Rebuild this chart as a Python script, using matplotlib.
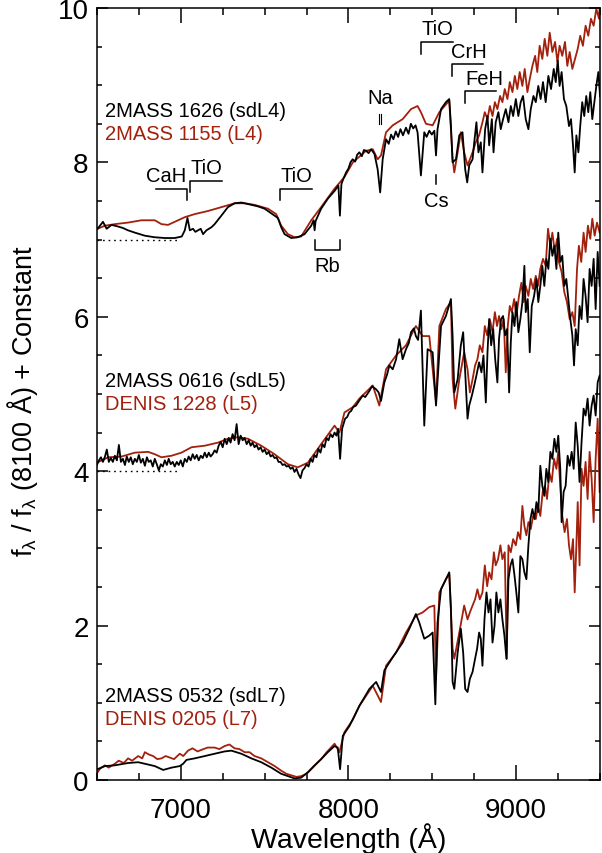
import matplotlib
matplotlib.use("Agg")
import numpy as np
import matplotlib.pyplot as plt
from matplotlib.ticker import MultipleLocator

plt.rcParams['font.family'] = ['Liberation Sans', 'DejaVu Sans']
plt.rcParams['mathtext.fontset'] = 'custom'
plt.rcParams['mathtext.rm'] = 'Liberation Sans'
plt.rcParams['mathtext.it'] = 'Liberation Sans'
plt.rcParams['mathtext.default'] = 'regular'

RED = '#a2200c'

# ---- spectra: (wavelength [A], normalized flux + offset) ----
# top pair (offset 7)
sp_1626 = np.array([
    (6504, 7.14), (6536, 7.23), (6558, 7.14), (6587, 7.19), (6625, 7.17), (6655, 7.15), (6685, 7.12),
    (6726, 7.09), (6786, 7.05), (6845, 7.03), (6905, 7.02), (6964, 7.02), (7006, 7.04), (7024, 7.12),
    (7040, 7.28), (7054, 7.12), (7073, 7.14), (7087, 7.10), (7119, 7.14), (7133, 7.07), (7153, 7.12),
    (7183, 7.16), (7202, 7.20), (7242, 7.31), (7281, 7.42), (7321, 7.47), (7361, 7.48), (7401, 7.46),
    (7460, 7.43), (7500, 7.40), (7540, 7.34), (7579, 7.28), (7599, 7.16), (7619, 7.07), (7659, 7.02),
    (7698, 7.03), (7738, 7.07), (7778, 7.18), (7792, 7.25), (7798, 7.12), (7804, 7.24), (7837, 7.40),
    (7877, 7.53), (7917, 7.63), (7940, 7.70), (7949, 7.31), (7958, 7.72), (7972, 7.80), (7986, 7.87),
    (8000, 7.92), (8012, 8.00), (8025, 8.04), (8040, 8.01), (8052, 8.10), (8065, 8.13), (8080, 8.08),
    (8092, 8.16), (8105, 8.15), (8120, 8.12), (8135, 8.17), (8155, 8.11), (8174, 7.91), (8189, 7.61),
    (8204, 8.04), (8224, 8.30), (8240, 8.24), (8254, 8.36), (8268, 8.30), (8282, 8.40), (8296, 8.33),
    (8310, 8.43), (8325, 8.35), (8343, 8.45), (8358, 8.37), (8372, 8.50), (8386, 8.44), (8400, 8.48),
    (8412, 8.39), (8432, 7.83), (8452, 8.39), (8466, 8.33), (8482, 8.41), (8497, 8.36), (8512, 8.41),
    (8522, 8.09), (8531, 8.43), (8552, 8.69), (8581, 8.78), (8601, 8.82), (8611, 8.48), (8621, 8.00),
    (8641, 8.04), (8661, 8.35), (8680, 8.39), (8696, 7.91), (8708, 7.74), (8720, 7.96), (8740, 8.04),
    (8750, 8.26), (8763, 8.52), (8775, 8.13), (8789, 8.26), (8799, 7.87), (8815, 8.43), (8829, 8.60),
    (8839, 8.22), (8855, 8.56), (8865, 8.13), (8878, 8.52), (8894, 8.65), (8908, 8.43), (8922, 8.56),
    (8938, 8.69), (8954, 8.52), (8968, 8.73), (8982, 8.60), (8998, 8.82), (9013, 8.60), (9027, 8.78),
    (9041, 8.86), (9057, 8.56), (9073, 8.43), (9087, 8.69), (9103, 8.86), (9117, 8.78), (9132, 8.99),
    (9146, 8.82), (9160, 9.04), (9176, 8.78), (9192, 9.12), (9208, 8.95), (9224, 9.21), (9236, 9.04),
    (9248, 9.32), (9259, 8.99), (9271, 9.17), (9285, 8.82), (9299, 8.73), (9315, 8.47), (9327, 8.56),
    (9339, 8.22), (9349, 7.87), (9359, 8.35), (9371, 8.13), (9382, 8.47), (9394, 8.78), (9406, 8.60),
    (9418, 8.86), (9430, 8.65), (9442, 8.91), (9454, 8.56), (9466, 8.78), (9478, 8.99), (9490, 9.17),
    (9500, 8.86)])

sp_1155 = np.array([
    (6504, 7.14), (6548, 7.18), (6607, 7.20), (6685, 7.22), (6766, 7.25), (6845, 7.25), (6885, 7.20),
    (6924, 7.19), (6964, 7.23), (7024, 7.29), (7083, 7.33), (7162, 7.37), (7242, 7.42), (7321, 7.47),
    (7381, 7.47), (7440, 7.45), (7520, 7.40), (7569, 7.33), (7599, 7.18), (7639, 7.07), (7679, 7.03),
    (7718, 7.04), (7778, 7.25), (7837, 7.42), (7917, 7.66), (7976, 7.81), (8026, 8.00), (8105, 8.15),
    (8145, 8.17), (8174, 8.04), (8194, 8.09), (8224, 8.39), (8264, 8.48), (8323, 8.56), (8373, 8.69),
    (8412, 8.73), (8432, 8.65), (8462, 8.50), (8502, 8.48), (8542, 8.65), (8581, 8.75), (8601, 8.80),
    (8621, 8.04), (8631, 7.87), (8651, 8.13), (8670, 8.39), (8690, 8.13), (8710, 7.96), (8740, 8.13),
    (8759, 8.26), (8779, 8.35), (8799, 8.52), (8813, 8.65), (8829, 8.56), (8843, 8.73), (8859, 8.60),
    (8873, 8.78), (8888, 8.69), (8904, 8.86), (8918, 8.78), (8932, 8.95), (8948, 8.82), (8962, 9.04),
    (8978, 8.91), (8992, 9.12), (9007, 8.95), (9021, 9.17), (9037, 8.99), (9051, 9.21), (9067, 8.91),
    (9081, 9.08), (9097, 9.25), (9113, 9.38), (9126, 9.17), (9140, 9.51), (9156, 9.34), (9170, 9.60),
    (9186, 9.38), (9200, 9.68), (9216, 9.43), (9232, 9.56), (9246, 9.30), (9259, 9.51), (9275, 9.38),
    (9291, 9.56), (9305, 9.25), (9319, 9.43), (9335, 9.21), (9351, 9.34), (9367, 9.47), (9382, 9.64),
    (9398, 9.51), (9414, 9.77), (9430, 9.64), (9446, 9.86), (9462, 9.77), (9478, 9.99), (9494, 9.86),
    (9500, 10.1)])

# middle pair (offset 4)
sp_0616 = np.array([
    (6500, 4.08), (6512, 4.14), (6524, 4.18), (6536, 4.12), (6548, 4.19), (6559, 4.28), (6571, 4.12),
    (6583, 4.17), (6595, 4.12), (6607, 4.20), (6619, 4.14), (6631, 4.34), (6643, 4.12), (6655, 4.16),
    (6667, 4.08), (6678, 4.19), (6690, 4.12), (6702, 4.18), (6714, 4.09), (6726, 4.16), (6738, 4.12),
    (6750, 4.21), (6762, 4.11), (6774, 4.16), (6786, 4.07), (6798, 4.18), (6809, 4.12), (6821, 4.14),
    (6833, 4.06), (6845, 4.16), (6857, 4.09), (6869, 4.01), (6881, 4.09), (6893, 4.06), (6905, 4.14),
    (6917, 4.08), (6928, 4.16), (6940, 4.09), (6952, 4.12), (6964, 4.06), (6976, 4.12), (6988, 4.08),
    (7000, 4.14), (7012, 4.06), (7024, 4.16), (7036, 4.12), (7047, 4.19), (7059, 4.14), (7071, 4.22),
    (7083, 4.16), (7095, 4.21), (7107, 4.14), (7119, 4.20), (7131, 4.17), (7143, 4.24), (7155, 4.18),
    (7167, 4.24), (7178, 4.19), (7190, 4.22), (7202, 4.27), (7214, 4.24), (7226, 4.33), (7238, 4.38),
    (7250, 4.31), (7262, 4.42), (7274, 4.35), (7286, 4.43), (7297, 4.37), (7309, 4.48), (7321, 4.40),
    (7333, 4.61), (7345, 4.35), (7357, 4.46), (7369, 4.40), (7381, 4.43), (7393, 4.35), (7405, 4.40),
    (7417, 4.33), (7428, 4.37), (7440, 4.31), (7452, 4.34), (7464, 4.28), (7476, 4.31), (7488, 4.25),
    (7500, 4.28), (7512, 4.22), (7524, 4.25), (7536, 4.19), (7547, 4.21), (7559, 4.17), (7571, 4.18),
    (7583, 4.12), (7595, 4.12), (7607, 4.08), (7619, 4.09), (7631, 4.06), (7643, 4.07), (7655, 4.03),
    (7667, 4.05), (7678, 3.99), (7690, 4.03), (7702, 3.96), (7714, 3.91), (7726, 4.01), (7738, 4.04),
    (7750, 4.09), (7762, 4.06), (7774, 4.16), (7786, 4.12), (7797, 4.21), (7809, 4.18), (7821, 4.29),
    (7833, 4.24), (7845, 4.35), (7857, 4.31), (7869, 4.43), (7881, 4.40), (7893, 4.48), (7905, 4.44),
    (7917, 4.50), (7928, 4.46), (7938, 4.55), (7950, 4.16), (7962, 4.55), (7980, 4.68), (7992, 4.70),
    (8004, 4.76), (8016, 4.78), (8028, 4.83), (8045, 4.85), (8060, 4.90), (8085, 4.98), (8100, 4.96),
    (8125, 5.04), (8140, 5.10), (8165, 5.06), (8180, 5.02), (8194, 4.91), (8214, 5.15), (8230, 5.25),
    (8244, 5.37), (8264, 5.32), (8284, 5.45), (8303, 5.71), (8323, 5.45), (8343, 5.58), (8360, 5.66),
    (8373, 5.80), (8390, 5.85), (8402, 5.75), (8415, 5.70), (8432, 6.08), (8452, 4.59), (8472, 5.58),
    (8502, 5.54), (8522, 4.85), (8552, 5.88), (8581, 6.01), (8611, 6.23), (8621, 5.75), (8631, 5.02),
    (8651, 5.19), (8670, 5.63), (8684, 5.80), (8700, 5.11), (8710, 4.68), (8720, 4.85), (8736, 4.98),
    (8750, 5.11), (8763, 5.24), (8779, 5.41), (8793, 5.28), (8805, 5.50), (8819, 4.89), (8829, 5.54),
    (8839, 5.97), (8851, 5.63), (8863, 5.84), (8875, 5.45), (8888, 5.15), (8898, 5.72), (8910, 5.97),
    (8922, 6.01), (8934, 5.76), (8946, 5.84), (8958, 5.02), (8968, 5.67), (8978, 6.06), (8990, 5.88),
    (9001, 6.19), (9013, 5.80), (9025, 5.97), (9037, 6.19), (9049, 6.66), (9057, 6.06), (9069, 6.23),
    (9081, 5.54), (9093, 6.14), (9107, 6.27), (9121, 6.49), (9132, 6.19), (9144, 6.40), (9156, 6.66),
    (9168, 6.40), (9180, 6.75), (9192, 6.62), (9204, 7.01), (9216, 6.79), (9228, 6.92), (9240, 6.62),
    (9251, 7.09), (9263, 6.71), (9275, 6.79), (9287, 6.40), (9299, 6.49), (9311, 6.23), (9323, 5.97),
    (9335, 5.76), (9345, 5.37), (9355, 5.84), (9367, 5.63), (9378, 6.14), (9390, 5.97), (9402, 6.49),
    (9414, 6.27), (9426, 5.93), (9438, 6.62), (9450, 6.40), (9462, 6.75), (9474, 6.10), (9486, 6.84),
    (9498, 6.40)])

sp_1228 = np.array([
    (6500, 4.11), (6567, 4.18), (6647, 4.19), (6726, 4.24), (6805, 4.25), (6845, 4.22), (6885, 4.18),
    (6945, 4.20), (7004, 4.24), (7064, 4.31), (7143, 4.33), (7222, 4.37), (7281, 4.42), (7341, 4.44),
    (7401, 4.42), (7480, 4.33), (7559, 4.22), (7639, 4.09), (7698, 4.05), (7758, 4.11), (7837, 4.35),
    (7917, 4.59), (7946, 4.50), (7976, 4.76), (8026, 4.83), (8065, 4.94), (8145, 5.11), (8184, 4.85),
    (8224, 5.32), (8284, 5.50), (8343, 5.63), (8402, 5.88), (8442, 5.75), (8482, 5.75), (8522, 4.89),
    (8542, 5.88), (8581, 6.10), (8611, 6.19), (8621, 5.19), (8637, 4.81), (8661, 5.19), (8690, 5.54),
    (8710, 5.32), (8724, 5.02), (8740, 5.19), (8755, 5.37), (8769, 5.45), (8783, 5.63), (8799, 5.54),
    (8813, 5.88), (8827, 5.76), (8843, 5.97), (8859, 5.80), (8873, 6.06), (8886, 5.88), (8898, 6.01),
    (8912, 5.84), (8926, 5.97), (8938, 5.28), (8950, 5.88), (8962, 6.14), (8974, 6.06), (8988, 6.23),
    (9001, 6.01), (9017, 6.27), (9031, 6.44), (9045, 6.19), (9057, 6.40), (9073, 6.27), (9087, 6.49),
    (9101, 6.36), (9117, 6.53), (9130, 6.40), (9144, 6.62), (9160, 6.75), (9176, 6.66), (9190, 7.14),
    (9204, 6.92), (9216, 7.09), (9230, 6.84), (9244, 7.01), (9255, 6.71), (9271, 6.58), (9287, 6.32),
    (9303, 6.19), (9319, 5.97), (9335, 6.06), (9349, 5.88), (9363, 6.62), (9374, 6.92), (9388, 6.71),
    (9402, 7.09), (9414, 6.84), (9428, 7.18), (9442, 7.01), (9454, 7.27), (9468, 7.05), (9482, 7.22),
    (9498, 7.09)])

# bottom pair (offset 0)
sp_0532 = np.array([
    (6504, 0.14), (6548, 0.18), (6607, 0.19), (6686, 0.22), (6746, 0.23), (6786, 0.21), (6845, 0.18),
    (6895, 0.13), (6945, 0.16), (6994, 0.18), (7014, 0.21), (7034, 0.26), (7083, 0.28), (7143, 0.31),
    (7202, 0.34), (7262, 0.37), (7302, 0.38), (7361, 0.34), (7421, 0.28), (7480, 0.23), (7540, 0.16),
    (7599, 0.08), (7639, 0.05), (7679, 0.02), (7718, 0.03), (7758, 0.10), (7798, 0.19), (7837, 0.27),
    (7877, 0.36), (7917, 0.44), (7936, 0.42), (7950, 0.14), (7966, 0.57), (8006, 0.70), (8065, 0.96),
    (8125, 1.18), (8165, 1.27), (8194, 1.14), (8214, 1.42), (8264, 1.59), (8323, 1.78), (8363, 1.96),
    (8402, 2.15), (8422, 2.04), (8452, 1.83), (8482, 1.87), (8502, 1.91), (8518, 0.98), (8531, 2.04),
    (8552, 2.47), (8581, 2.60), (8601, 2.69), (8611, 2.22), (8621, 1.27), (8631, 1.18), (8651, 1.65),
    (8670, 1.96), (8684, 1.65), (8696, 1.18), (8710, 1.14), (8724, 1.31), (8740, 1.40), (8755, 1.57),
    (8767, 1.70), (8779, 1.91), (8789, 1.83), (8799, 1.48), (8811, 2.08), (8823, 2.43), (8835, 2.17),
    (8847, 2.34), (8859, 1.78), (8871, 2.00), (8882, 2.43), (8894, 2.17), (8906, 2.34), (8918, 2.08),
    (8930, 1.87), (8942, 1.57), (8954, 2.60), (8966, 2.78), (8978, 2.86), (8990, 2.65), (9001, 2.43),
    (9013, 2.17), (9025, 2.90), (9037, 2.86), (9049, 2.69), (9061, 2.60), (9073, 3.04), (9085, 3.38),
    (9097, 3.51), (9109, 3.38), (9121, 3.60), (9132, 3.47), (9144, 4.07), (9156, 3.81), (9168, 3.68),
    (9180, 4.03), (9192, 3.86), (9204, 4.25), (9216, 4.16), (9228, 4.42), (9240, 4.25), (9251, 4.46),
    (9263, 4.03), (9271, 3.34), (9283, 3.73), (9295, 3.81), (9307, 4.20), (9319, 4.07), (9331, 4.25),
    (9343, 4.03), (9355, 4.63), (9367, 4.33), (9378, 3.86), (9390, 4.38), (9402, 4.81), (9414, 4.72),
    (9426, 4.94), (9438, 4.59), (9450, 4.85), (9462, 4.98), (9474, 4.72), (9486, 5.15), (9498, 5.24)])

sp_0205 = np.array([
    (6504, 0.10), (6520, 0.15), (6548, 0.19), (6570, 0.16), (6607, 0.21), (6630, 0.25), (6660, 0.22),
    (6686, 0.28), (6710, 0.25), (6746, 0.31), (6770, 0.28), (6786, 0.36), (6810, 0.33), (6835, 0.31),
    (6860, 0.27), (6885, 0.28), (6910, 0.31), (6935, 0.29), (6960, 0.27), (6994, 0.34), (7015, 0.31),
    (7043, 0.38), (7070, 0.41), (7100, 0.37), (7123, 0.39), (7160, 0.42), (7202, 0.42), (7230, 0.40),
    (7262, 0.44), (7290, 0.46), (7321, 0.41), (7350, 0.40), (7381, 0.36), (7410, 0.36), (7440, 0.31),
    (7480, 0.28), (7520, 0.23), (7560, 0.18), (7599, 0.12), (7630, 0.08), (7659, 0.06), (7690, 0.04),
    (7718, 0.05), (7750, 0.08), (7778, 0.14), (7805, 0.20), (7837, 0.27), (7870, 0.36), (7917, 0.47),
    (7946, 0.36), (7976, 0.62), (8026, 0.78), (8065, 0.96), (8145, 1.22), (8194, 1.01), (8224, 1.48),
    (8284, 1.65), (8343, 1.91), (8402, 2.13), (8442, 2.17), (8482, 2.24), (8512, 2.26), (8522, 1.30),
    (8542, 2.43), (8581, 2.60), (8601, 2.67), (8621, 1.70), (8631, 1.57), (8661, 1.91), (8690, 2.26),
    (8710, 2.08), (8724, 2.17), (8740, 2.26), (8755, 2.34), (8769, 2.47), (8783, 2.34), (8799, 2.43),
    (8813, 2.78), (8827, 2.51), (8839, 2.69), (8853, 2.60), (8867, 2.95), (8878, 2.78), (8892, 2.86),
    (8906, 3.04), (8918, 2.86), (8932, 2.95), (8944, 1.57), (8954, 3.04), (8968, 2.95), (8982, 3.12),
    (8998, 3.04), (9011, 3.21), (9025, 3.12), (9037, 3.55), (9049, 3.29), (9061, 3.17), (9073, 3.34),
    (9087, 3.25), (9101, 3.42), (9117, 3.38), (9130, 3.55), (9144, 3.42), (9158, 3.73), (9172, 3.81),
    (9184, 3.64), (9198, 3.98), (9212, 3.86), (9226, 4.16), (9240, 4.03), (9251, 4.25), (9263, 3.81),
    (9275, 3.42), (9289, 3.21), (9303, 3.38), (9315, 3.04), (9327, 2.86), (9339, 3.12), (9349, 2.43),
    (9359, 3.04), (9367, 3.60), (9378, 2.78), (9390, 4.03), (9402, 3.81), (9414, 4.12), (9426, 3.64),
    (9438, 4.25), (9450, 3.90), (9462, 3.34), (9474, 4.16), (9486, 4.68), (9498, 3.73)])

# object names: (text, y position, colour)
labels = [("2MASS 1626 (sdL4)", 8.67, 'black'), ("2MASS 1155 (L4)", 8.38, RED),
          ("2MASS 0616 (sdL5)", 5.18, 'black'), ("DENIS 1228 (L5)", 4.88, RED),
          ("2MASS 0532 (sdL7)", 1.09, 'black'), ("DENIS 0205 (L7)", 0.79, RED)]

fig = plt.figure(figsize=(6.02, 8.54), dpi=100)
ax = fig.add_axes([0.161, 0.0855, 0.8357, 0.904])

# comparison (red) first, subdwarf (black) on top
for sp, col in [(sp_1155, RED), (sp_1626, 'black'), (sp_1228, RED), (sp_0616, 'black'),
                (sp_0205, RED), (sp_0532, 'black')]:
    ax.plot(sp[:, 0], sp[:, 1], color=col, lw=1.3)

# dotted zero levels
for off in [7, 4]:
    ax.plot([6500, 6990], [off, off], color='black', lw=1.0, ls=(0, (1.2, 2.8)))

for txt, yy, col in labels:
    ax.text(6550, yy, txt, color=col, fontsize=14.5, va='center', ha='left')

# feature markers
fs = 14.5
k = dict(color='black', lw=1.1)
ax.plot([6851, 7040, 7040], [7.66, 7.66, 7.51], **k)          # CaH
ax.text(6915, 7.83, "CaH", fontsize=fs, ha='center', va='center')
ax.plot([7058, 7058, 7248], [7.61, 7.76, 7.76], **k)          # TiO
ax.text(7152, 7.93, "TiO", fontsize=fs, ha='center', va='center')
ax.plot([7593, 7593, 7783], [7.51, 7.66, 7.66], **k)          # TiO
ax.text(7688, 7.83, "TiO", fontsize=fs, ha='center', va='center')
ax.plot([7801, 7801, 7952, 7952], [7.00, 6.87, 6.87, 7.00], **k)  # Rb
ax.text(7876, 6.67, "Rb", fontsize=fs, ha='center', va='center')
ax.plot([8183, 8183], [8.50, 8.63], color='black', lw=0.8)   # Na doublet
ax.plot([8195, 8195], [8.50, 8.63], color='black', lw=0.8)
ax.text(8192, 8.84, "Na", fontsize=fs, ha='center', va='center')
ax.plot([8522, 8522], [7.72, 7.84], **k)                      # Cs
ax.text(8522, 7.50, "Cs", fontsize=fs, ha='center', va='center')
ax.plot([8434, 8434, 8621], [9.40, 9.56, 9.56], **k)          # TiO
ax.text(8531, 9.73, "TiO", fontsize=fs, ha='center', va='center')
ax.plot([8615, 8615, 8803], [9.12, 9.27, 9.27], **k)          # CrH
ax.text(8716, 9.44, "CrH", fontsize=fs, ha='center', va='center')
ax.plot([8694, 8694, 8882], [8.77, 8.92, 8.92], **k)          # FeH
ax.text(8809, 9.08, "FeH", fontsize=fs, ha='center', va='center')

ax.set_xlim(6500, 9500)
ax.set_ylim(0, 10)
ax.xaxis.set_major_locator(MultipleLocator(1000))
ax.xaxis.set_minor_locator(MultipleLocator(250))
ax.yaxis.set_major_locator(MultipleLocator(2))
ax.yaxis.set_minor_locator(MultipleLocator(0.5))
ax.tick_params(which='both', direction='in', top=True, right=True, width=1.1, labelsize=20)
ax.tick_params(axis='x', which='major', length=10.5, pad=12)
ax.tick_params(axis='x', which='minor', length=4.8)
ax.tick_params(axis='y', which='major', length=8, pad=6)
ax.tick_params(axis='y', which='minor', length=3.3)
for s in ax.spines.values():
    s.set_linewidth(1.1)

ax.set_xlabel("Wavelength (Å)", fontsize=20.5, labelpad=0)
ax.set_ylabel(r"f$_\lambda$ / f$_\lambda$ (8100 Å) + Constant", fontsize=19.5, labelpad=13)
ax.yaxis.label.set_y(0.492)

# end labels sit inside the frame like in the original
yt = ax.yaxis.get_major_ticks()
yt[0].label1.set_verticalalignment('baseline')
yt[-1].label1.set_verticalalignment('top')

fig.savefig("out.png", dpi=100)
